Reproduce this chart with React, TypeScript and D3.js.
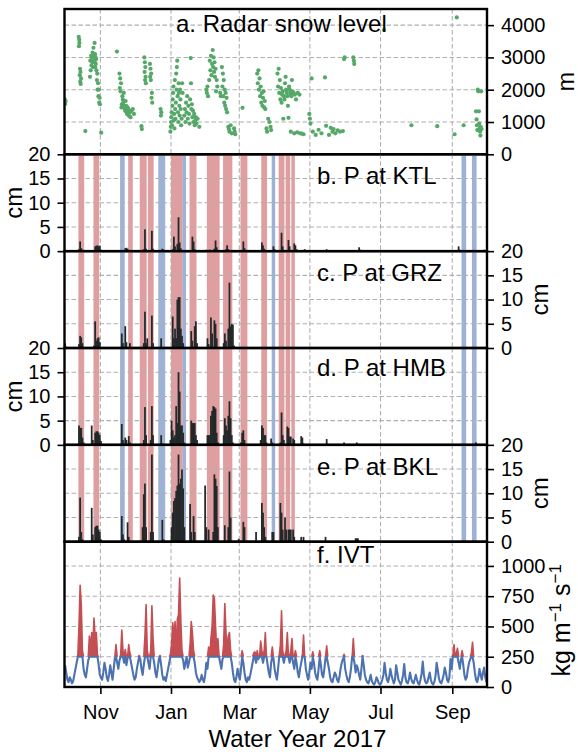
import React, { useEffect, useRef } from "react";
import * as d3 from "d3";

const FONT = "'Liberation Sans', Arial, Helvetica, sans-serif";
const RED = "#C44E52";
const BLUE = "#4C72B0";
const GREEN = "#55A868";

// Water year 2017
const waterYearStart = "2016-10-01";
const waterYearEnd = "2017-10-01";
const monthTicks = ["2016-11-01", "2017-01-01", "2017-03-01", "2017-05-01", "2017-07-01", "2017-09-01"];

// a. radar snow level: [day of water year, m]
const snowLevel: [number, number][] = [
  [0.2, 1700], [0.4, 1620], [0.6, 1560], [1.0, 1650],
  [12.3, 3640], [12.5, 3350], [12.7, 3550], [12.9, 3450], [13.2, 2450], [13.4, 2650], [13.6, 2250], [13.8, 2550], [14.0, 2180], [14.3, 2350], [18, 720],
  [22.0, 2400], [22.3, 2900], [22.6, 2600], [23.0, 3050], [23.3, 2750], [23.6, 3000], [24.0, 2850], [24.3, 3150], [24.6, 2700], [25.0, 3300],
  [25.3, 2900], [25.6, 3050], [26.0, 3450], [26.2, 2850], [26.4, 3100], [26.6, 2700], [26.8, 3000], [27.0, 2800], [27.3, 2950], [27.6, 2600],
  [28.0, 2300], [28.3, 2500], [28.6, 2000], [29.0, 2200], [29.3, 1800], [29.6, 2000], [30.0, 1600], [30.3, 1750], [30.6, 1550], [31.7, 670],
  [45.3, 3180],
  [47.5, 2500], [47.8, 2050], [48.1, 2350], [48.4, 1950], [48.8, 2200], [49.2, 1450], [49.6, 1550], [50.0, 1800], [50.4, 1700], [50.8, 1600],
  [51.2, 1900], [51.6, 1500], [52.0, 1400], [52.4, 1350], [52.8, 1650], [53.2, 1500], [53.6, 1300], [54.0, 1250], [54.5, 1450], [55.0, 1400],
  [55.5, 1200], [56.0, 1350], [56.5, 1300], [57.0, 1150], [58.0, 1350], [59.0, 1400], [60.0, 1250], [66.5, 870], [66.8, 780],
  [69.0, 3000], [69.2, 2550], [69.4, 2850], [69.6, 2300], [69.8, 2700], [70.0, 2400], [70.3, 2200],
  [73.8, 2800], [74.0, 2400], [74.3, 2650], [74.6, 2300], [74.9, 2500], [75.2, 1750], [75.5, 1900], [75.8, 1600],
  [83.0, 1400], [83.3, 1200], [83.6, 1300],
  [91.5, 700], [91.8, 850], [92.0, 1000], [92.3, 1150], [92.6, 1300], [92.9, 900], [93.2, 1500], [93.5, 1700], [93.8, 1900], [94.1, 2100],
  [94.4, 1050], [94.7, 1250], [95.0, 800], [95.3, 2300], [95.6, 1400], [95.9, 1100], [96.2, 1600], [96.5, 2500], [96.8, 2000], [97.1, 2700],
  [97.4, 2900], [97.7, 1800], [98.0, 1300], [98.3, 1000], [98.6, 2200], [98.9, 1900], [99.2, 1500], [99.5, 1200], [99.8, 2000], [100.1, 1700],
  [100.4, 1400], [100.8, 900], [101.2, 1100], [101.6, 2200], [102.0, 1900],
  [103.5, 1200], [104.0, 1400], [104.5, 1000], [105.0, 1600], [105.5, 1300], [106.0, 1800], [106.5, 1100], [107.0, 1500], [107.5, 1250],
  [108.0, 950], [108.5, 1700], [109.0, 2980], [109.3, 2200], [109.6, 1400], [110.0, 1550], [110.5, 1150], [111.0, 1350], [111.5, 1000],
  [112.0, 1250], [112.5, 900], [113.0, 1050], [113.5, 1150], [114.0, 950], [115.0, 1100], [116.5, 850],
  [122.5, 2000], [123.0, 1900], [123.5, 2100], [124.0, 1800], [125.0, 2300], [125.5, 2900], [126.0, 2600], [126.5, 3050], [127.0, 2450],
  [127.5, 2800], [128.0, 3230], [128.4, 2700], [128.8, 3000], [129.2, 2550], [129.6, 2850], [130.0, 2400], [130.5, 2650], [131.0, 1950],
  [131.5, 2300], [132.0, 2100], [134.5, 1900], [135.0, 1800], [136.0, 2700], [136.4, 2100], [136.8, 2500], [137.2, 1800], [137.6, 2300],
  [138.0, 1600], [138.4, 2000], [138.8, 1500], [139.2, 1900], [139.6, 1400], [140.0, 1750], [140.5, 1300],
  [141.5, 850], [142.0, 780], [142.5, 700], [143.5, 900], [144.5, 650], [146.5, 800], [147.0, 700], [147.5, 620], [153.8, 1440],
  [166.5, 2500], [167.0, 2200], [167.5, 2600], [168.0, 2000], [168.5, 2350], [169.0, 1800], [169.5, 2100], [170.0, 1600], [170.5, 1900],
  [171.0, 1500], [171.5, 1750], [172.0, 1950], [172.5, 1450], [173.0, 1650], [173.5, 1400], [174.5, 800], [175.0, 700], [176.0, 1100],
  [177.0, 1000], [178.0, 850], [178.5, 750],
  [184.0, 2500], [184.5, 2100], [185.0, 2650], [185.5, 1900], [186.0, 2300], [186.5, 1700], [187.0, 2050], [187.5, 1600], [188.0, 1850],
  [188.5, 1950], [189.0, 1100], [189.5, 1800], [190.0, 1700], [190.5, 2200], [191.0, 2400], [191.5, 2000], [192.0, 1900], [192.5, 1800],
  [193.0, 1500], [193.5, 1130], [194.0, 2100], [194.5, 2000], [195.0, 1900], [195.5, 1850], [196.0, 1800], [196.5, 2300], [197.0, 1950],
  [198.0, 1900], [199.0, 1850], [200.0, 1700], [201.5, 1900], [203.0, 1850],
  [195.5, 700], [198.5, 650], [201.0, 680], [203.5, 650], [205.0, 640], [206.5, 620],
  [211.5, 1250], [212.0, 1100], [212.5, 950], [213.5, 2350], [214.5, 700], [217.0, 600], [219.5, 760], [222.0, 650], [225.0, 2380],
  [226.0, 880], [228.5, 600], [230.0, 820], [231.5, 700], [232.5, 780], [234.0, 650], [236.0, 740], [238.0, 700], [240.5, 720],
  [241.5, 2950], [242.0, 3000], [249.5, 3000], [250.0, 2900], [250.3, 2800],
  [276.0, 3850], [299.7, 900], [322.0, 870], [337.0, 620], [338.9, 4240], [344.8, 900],
  [355.5, 1330], [356.0, 1080], [356.3, 900], [356.6, 750], [357.0, 2000], [357.5, 1950], [358.0, 1330], [358.3, 950], [358.6, 800],
  [359.0, 700], [359.3, 580], [359.6, 850], [360.0, 1950], [360.3, 780],
];

// daily precipitation (cm); days not listed are zero
const precipKTL: [string, number][] = [
  ["2016-10-13", 0.4], ["2016-10-14", 2.0], ["2016-10-15", 0.6], ["2016-10-16", 0.3],
  ["2016-10-27", 1.0], ["2016-10-28", 1.1], ["2016-10-29", 1.2], ["2016-10-30", 1.0], ["2016-10-31", 1.1], ["2016-11-01", 0.3],
  ["2016-11-22", 0.6], ["2016-11-23", 0.7], ["2016-11-24", 0.5],
  ["2016-12-08", 0.4], ["2016-12-09", 4.5], ["2016-12-10", 0.5], ["2016-12-15", 4.2], ["2016-12-16", 0.5],
  ["2016-12-24", 0.5], ["2016-12-25", 0.3],
  ["2017-01-02", 0.4], ["2017-01-03", 3.0], ["2017-01-04", 1.0], ["2017-01-06", 1.5], ["2017-01-07", 7.0], ["2017-01-08", 1.8], ["2017-01-09", 0.6],
  ["2017-01-19", 3.0], ["2017-01-20", 2.0], ["2017-01-21", 0.4], ["2017-01-31", 0.3],
  ["2017-02-03", 0.3], ["2017-02-07", 0.5], ["2017-02-08", 2.2], ["2017-02-09", 0.8], ["2017-02-17", 0.4], ["2017-02-18", 1.2], ["2017-02-19", 0.4],
  ["2017-03-04", 2.0], ["2017-03-05", 0.6],
  ["2017-03-20", 1.8], ["2017-03-21", 1.2], ["2017-03-22", 0.5], ["2017-03-30", 1.0], ["2017-03-31", 0.4],
  ["2017-04-06", 3.8], ["2017-04-07", 1.0], ["2017-04-12", 2.3], ["2017-04-13", 1.0], ["2017-04-17", 1.6], ["2017-04-18", 1.2], ["2017-04-19", 0.4],
  ["2017-04-26", 0.4], ["2017-05-15", 0.4], ["2017-06-12", 0.8], ["2017-06-13", 0.3], ["2017-09-06", 1.0], ["2017-09-07", 0.3], ["2017-09-28", 0.3],
];

const precipGRZ: [string, number][] = [
  ["2016-10-01", 1.0], ["2016-10-02", 0.3],
  ["2016-10-13", 0.8], ["2016-10-14", 2.5], ["2016-10-15", 2.2], ["2016-10-16", 1.0],
  ["2016-10-26", 0.5], ["2016-10-27", 5.5], ["2016-10-28", 1.5], ["2016-10-29", 2.0], ["2016-10-30", 2.2], ["2016-10-31", 1.2],
  ["2016-11-19", 3.0], ["2016-11-20", 1.0], ["2016-11-22", 4.5], ["2016-11-23", 1.2], ["2016-11-26", 1.0],
  ["2016-12-08", 1.0], ["2016-12-09", 7.5], ["2016-12-10", 1.0], ["2016-12-11", 2.0], ["2016-12-15", 6.7], ["2016-12-16", 1.0],
  ["2016-12-23", 2.0],
  ["2017-01-02", 6.5], ["2017-01-03", 2.0], ["2017-01-04", 4.0], ["2017-01-05", 2.0], ["2017-01-06", 10.0], ["2017-01-07", 10.5],
  ["2017-01-08", 10.5], ["2017-01-09", 4.0], ["2017-01-10", 2.5], ["2017-01-11", 1.0],
  ["2017-01-18", 3.5], ["2017-01-19", 1.5], ["2017-01-21", 4.5], ["2017-01-22", 5.5], ["2017-01-23", 1.0],
  ["2017-02-01", 2.0], ["2017-02-02", 0.8], ["2017-02-04", 6.3], ["2017-02-05", 3.0], ["2017-02-07", 5.7], ["2017-02-08", 5.0], ["2017-02-09", 2.0],
  ["2017-02-15", 1.0], ["2017-02-16", 3.0], ["2017-02-17", 1.5], ["2017-02-19", 4.0], ["2017-02-20", 13.5], ["2017-02-21", 4.5],
  ["2017-02-22", 5.0], ["2017-02-23", 4.8], ["2017-02-24", 0.5],
];

const precipHMB: [string, number][] = [
  ["2016-10-13", 4.0], ["2016-10-14", 3.5], ["2016-10-15", 3.5], ["2016-10-16", 1.5], ["2016-10-17", 0.5],
  ["2016-10-24", 4.0], ["2016-10-25", 1.0], ["2016-10-27", 2.5], ["2016-10-28", 2.8], ["2016-10-29", 2.8], ["2016-10-30", 2.5], ["2016-10-31", 2.0], ["2016-11-01", 0.8],
  ["2016-11-19", 4.3], ["2016-11-20", 1.0], ["2016-11-22", 1.5], ["2016-11-23", 1.0], ["2016-11-25", 1.8], ["2016-11-26", 0.5],
  ["2016-12-08", 1.0], ["2016-12-09", 7.8], ["2016-12-10", 2.0], ["2016-12-14", 1.0], ["2016-12-15", 8.0], ["2016-12-16", 2.0],
  ["2016-12-23", 2.0], ["2016-12-24", 0.3],
  ["2016-12-31", 1.0], ["2017-01-01", 5.0], ["2017-01-02", 3.0], ["2017-01-03", 1.5], ["2017-01-04", 2.0], ["2017-01-05", 8.0], ["2017-01-06", 4.5],
  ["2017-01-07", 15.0], ["2017-01-08", 11.0], ["2017-01-09", 4.0], ["2017-01-10", 4.0], ["2017-01-11", 2.5], ["2017-01-12", 0.5],
  ["2017-01-18", 5.0], ["2017-01-19", 4.5], ["2017-01-20", 4.5], ["2017-01-21", 4.5], ["2017-01-22", 2.0], ["2017-01-23", 1.0],
  ["2017-02-01", 2.0], ["2017-02-02", 2.0], ["2017-02-03", 2.0], ["2017-02-04", 6.0], ["2017-02-05", 7.0], ["2017-02-06", 8.0], ["2017-02-07", 7.8],
  ["2017-02-08", 7.5], ["2017-02-09", 2.5], ["2017-02-10", 0.5],
  ["2017-02-15", 2.0], ["2017-02-16", 5.5], ["2017-02-17", 4.0], ["2017-02-18", 3.0], ["2017-02-19", 6.0], ["2017-02-20", 9.0], ["2017-02-21", 5.5],
  ["2017-02-22", 2.0], ["2017-02-23", 0.5],
  ["2017-03-02", 0.5], ["2017-03-03", 2.5], ["2017-03-04", 3.0], ["2017-03-05", 1.0],
  ["2017-03-19", 1.0], ["2017-03-20", 4.0], ["2017-03-21", 3.5], ["2017-03-22", 2.0], ["2017-03-23", 2.0], ["2017-03-24", 0.5], ["2017-03-28", 1.3], ["2017-03-29", 0.5],
  ["2017-04-05", 0.5], ["2017-04-06", 6.7], ["2017-04-07", 2.0], ["2017-04-08", 1.0], ["2017-04-11", 3.8], ["2017-04-12", 3.5], ["2017-04-13", 1.7],
  ["2017-04-14", 1.7], ["2017-04-16", 1.3], ["2017-04-17", 1.0],
  ["2017-04-23", 1.8], ["2017-04-24", 1.5], ["2017-04-25", 0.3],
  ["2017-05-15", 1.2], ["2017-05-30", 0.5], ["2017-06-10", 0.5], ["2017-09-21", 0.5],
];

const precipBKL: [string, number][] = [
  ["2016-10-13", 1.0], ["2016-10-14", 9.1], ["2016-10-15", 2.0], ["2016-10-16", 0.5],
  ["2016-10-24", 7.0], ["2016-10-25", 1.5], ["2016-10-27", 3.0], ["2016-10-28", 3.3], ["2016-10-29", 3.3], ["2016-10-30", 2.5], ["2016-10-31", 2.0], ["2016-11-01", 0.5],
  ["2016-11-19", 5.3], ["2016-11-20", 1.5], ["2016-11-21", 0.5], ["2016-11-24", 4.0], ["2016-11-25", 1.0],
  ["2016-12-07", 3.0], ["2016-12-08", 9.8], ["2016-12-09", 12.0], ["2016-12-10", 3.0], ["2016-12-14", 2.0], ["2016-12-15", 18.0], ["2016-12-16", 2.0],
  ["2016-12-24", 4.5], ["2016-12-25", 0.5],
  ["2017-01-01", 3.0], ["2017-01-02", 6.0], ["2017-01-03", 8.4], ["2017-01-04", 9.0], ["2017-01-05", 10.5], ["2017-01-06", 11.6], ["2017-01-07", 18.0],
  ["2017-01-08", 12.0], ["2017-01-09", 13.0], ["2017-01-10", 14.9], ["2017-01-11", 11.0], ["2017-01-12", 3.0],
  ["2017-01-17", 7.8], ["2017-01-18", 2.0], ["2017-01-20", 5.3], ["2017-01-21", 2.0],
  ["2017-01-30", 11.6], ["2017-01-31", 3.0], ["2017-02-02", 2.5],
  ["2017-02-06", 2.0], ["2017-02-07", 13.9], ["2017-02-08", 13.0], ["2017-02-09", 11.5], ["2017-02-10", 3.0],
  ["2017-02-16", 3.4], ["2017-02-19", 3.0], ["2017-02-20", 14.5], ["2017-02-21", 5.0], ["2017-02-28", 0.6],
  ["2017-03-04", 4.1], ["2017-03-05", 3.0], ["2017-03-15", 2.0],
  ["2017-03-20", 8.0], ["2017-03-21", 6.0], ["2017-03-22", 3.0], ["2017-03-23", 1.0], ["2017-03-29", 2.0], ["2017-03-30", 2.0],
  ["2017-04-05", 8.0], ["2017-04-06", 6.0], ["2017-04-07", 2.5], ["2017-04-09", 5.0], ["2017-04-10", 2.5], ["2017-04-12", 2.5],
  ["2017-04-13", 2.5], ["2017-04-14", 2.5], ["2017-04-16", 2.5], ["2017-04-17", 1.0],
  ["2017-04-23", 1.0], ["2017-04-25", 1.0], ["2017-05-14", 1.0], ["2017-06-09", 0.7], ["2017-06-10", 0.7], ["2017-06-11", 0.7],
];

// shaded periods in panels b-e: [start, end, kind]
const bands: [string, string, string][] = [
  ["2016-10-13", "2016-10-18", "red"], ["2016-10-26", "2016-10-31", "red"], ["2016-11-18", "2016-11-22", "blue"],
  ["2016-11-25", "2016-11-29", "red"], ["2016-12-05", "2016-12-11", "red"], ["2016-12-12", "2016-12-17", "red"],
  ["2016-12-21", "2016-12-27", "blue"], ["2017-01-01", "2017-01-11", "red"], ["2017-01-11", "2017-01-14", "blue"],
  ["2017-01-17", "2017-01-23", "red"], ["2017-02-01", "2017-02-12", "red"], ["2017-02-15", "2017-02-23", "red"],
  ["2017-03-02", "2017-03-08", "red"], ["2017-03-20", "2017-03-25", "red"], ["2017-03-29", "2017-04-01", "blue"],
  ["2017-04-04", "2017-04-09", "red"], ["2017-04-10", "2017-04-14", "red"], ["2017-04-15", "2017-04-18", "red"],
  ["2017-09-09", "2017-09-13", "blue"], ["2017-09-18", "2017-09-22", "blue"],
];

// f. daily IVT (kg m-1 s-1), one array per month
const ivtOct = [180, 120, 60, 40, 80, 60, 30, 50, 100, 150, 200, 260, 500, 840, 680, 300, 150, 100, 80, 150, 220, 420, 300, 450, 350, 570, 400, 450, 260, 180, 100];
const ivtNov = [80, 60, 120, 200, 150, 80, 50, 100, 180, 120, 60, 150, 240, 350, 200, 150, 220, 260, 470, 300, 200, 310, 180, 240, 350, 280, 200, 150, 100, 60];
const ivtDec = [80, 150, 200, 260, 230, 150, 100, 180, 420, 680, 300, 200, 150, 300, 670, 400, 200, 120, 80, 150, 230, 260, 180, 100, 60, 80, 50, 100, 150, 200, 270];
const ivtJan = [350, 530, 400, 540, 300, 560, 600, 900, 550, 300, 220, 150, 200, 250, 160, 200, 350, 540, 450, 300, 200, 120, 80, 60, 40, 60, 100, 60, 40, 100, 200];
const ivtFeb = [150, 330, 260, 400, 500, 760, 730, 500, 300, 400, 260, 200, 150, 230, 350, 690, 450, 300, 420, 450, 300, 200, 120, 60, 40, 80, 150, 100];
const ivtMar = [60, 150, 300, 200, 120, 60, 40, 80, 60, 100, 150, 200, 280, 290, 200, 300, 230, 250, 380, 300, 200, 300, 450, 250, 180, 120, 80, 200, 330, 240, 150];
const ivtApr = [100, 60, 150, 260, 350, 630, 300, 200, 260, 300, 450, 250, 200, 300, 400, 200, 150, 300, 200, 120, 80, 150, 200, 260, 430, 250, 150, 100, 60, 120];
const ivtMay = [200, 150, 290, 200, 120, 80, 60, 150, 300, 180, 100, 80, 150, 240, 340, 200, 150, 80, 50, 40, 80, 120, 100, 60, 40, 80, 150, 200, 230, 270, 150];
const ivtJun = [100, 60, 40, 80, 150, 250, 400, 200, 120, 180, 150, 100, 60, 150, 260, 180, 100, 60, 40, 30, 60, 100, 50, 30, 20, 40, 80, 60, 30, 20];
const ivtJul = [30, 60, 100, 200, 120, 60, 40, 80, 150, 100, 60, 30, 60, 180, 120, 60, 40, 20, 50, 100, 190, 80, 40, 30, 60, 120, 70, 40, 30, 60, 100];
const ivtAug = [60, 30, 20, 60, 110, 210, 100, 50, 30, 40, 80, 120, 60, 30, 20, 40, 90, 200, 140, 70, 40, 30, 60, 100, 160, 120, 60, 40, 80, 230, 150];
const ivtSep = [260, 350, 250, 280, 320, 200, 150, 230, 300, 180, 100, 60, 80, 150, 200, 230, 280, 370, 200, 120, 60, 40, 80, 150, 100, 60, 120, 160, 80, 40];
const ivtThreshold = 250;

export default function App() {
  const ref = useRef<HTMLDivElement>(null);

  useEffect(() => {
    if (!ref.current) return;
    const container = d3.select(ref.current);
    container.selectAll("*").remove();

    const width = 578, height = 752;
    const margin = { top: 9, right: 91, bottom: 65, left: 64.5 };
    const left = margin.left, right = width - margin.right;

    const svg = container.append("svg")
      .attr("width", width).attr("height", height)
      .style("position", "absolute").style("left", "0px").style("top", "0px")
      .style("background", "#fff")
      .attr("font-family", FONT);

    const parse = d3.timeParse("%Y-%m-%d");
    const t0 = parse(waterYearStart)!;
    const x = d3.scaleTime().domain([t0, parse(waterYearEnd)!]).range([left, right]);
    const atDay = (d: number) => x(new Date(t0.getTime() + d * 864e5));
    const xs = (s: string) => x(parse(s)!);
    const xNext = (s: string) => x(d3.timeDay.offset(parse(s)!, 1));
    const gridX = monthTicks.map(s => xs(s));

    const ivt = [...ivtOct, ...ivtNov, ...ivtDec, ...ivtJan, ...ivtFeb, ...ivtMar, ...ivtApr, ...ivtMay, ...ivtJun, ...ivtJul, ...ivtAug, ...ivtSep];

    const panels: any[] = [
      { id: "a", h: 1.5, title: "a. Radar snow level", tx: 176, ty: 23, side: "right", domain: [0, 4500], ticks: [0, 1000, 2000, 3000, 4000], label: "m" },
      { id: "b", h: 1, title: "b. P at KTL", tx: 317, ty: 30, side: "left", domain: [0, 20], ticks: [0, 5, 10, 15, 20], label: "cm", precip: precipKTL },
      { id: "c", h: 1, title: "c. P at GRZ", tx: 317, ty: 30, side: "right", domain: [0, 20], ticks: [0, 5, 10, 15, 20], label: "cm", precip: precipGRZ },
      { id: "d", h: 1, title: "d. P at HMB", tx: 317, ty: 28, side: "left", domain: [0, 20], ticks: [0, 5, 10, 15, 20], label: "cm", precip: precipHMB },
      { id: "e", h: 1, title: "e. P at BKL", tx: 317, ty: 30, side: "right", domain: [0, 20], ticks: [0, 5, 10, 15, 20], label: "cm", precip: precipBKL },
      { id: "f", h: 1.5, title: "f. IVT", tx: 317, ty: 21.5, side: "right", domain: [0, 1200], ticks: [0, 250, 500, 750, 1000], label: "ivt" },
    ];
    const unit = (height - margin.top - margin.bottom) / d3.sum(panels, p => p.h);
    let cursor = margin.top;
    panels.forEach(p => { p.y0 = cursor; cursor += p.h * unit; p.y1 = cursor; });

    const defs = svg.append("defs");

    panels.forEach(p => {
      const y = d3.scaleLinear().domain(p.domain).range([p.y1, p.y0]);
      const g = svg.append("g");

      defs.append("clipPath").attr("id", `clip-${p.id}`)
        .append("rect").attr("x", left).attr("y", p.y0).attr("width", right - left).attr("height", p.y1 - p.y0);
      const body = g.append("g").attr("clip-path", `url(#clip-${p.id})`);

      // shaded periods
      if (p.precip) {
        body.selectAll("rect.band").data(bands).join("rect").attr("class", "band")
          .attr("x", d => xs(d[0])).attr("width", d => xs(d[1]) - xs(d[0]))
          .attr("y", p.y0).attr("height", p.y1 - p.y0)
          .attr("fill", d => d[2] === "red" ? RED : BLUE).attr("opacity", 0.55);
      }

      // grid
      body.selectAll("line.gx").data(gridX).join("line").attr("class", "gx")
        .attr("x1", d => d).attr("x2", d => d).attr("y1", p.y0).attr("y2", p.y1)
        .attr("stroke", "#b0b0b0").attr("stroke-width", 1.1).attr("stroke-dasharray", "4.5,2.5");
      body.selectAll("line.gy").data(p.ticks.filter((t: number) => t > p.domain[0] && t < p.domain[1])).join("line").attr("class", "gy")
        .attr("x1", left).attr("x2", right).attr("y1", (d: number) => y(d)).attr("y2", (d: number) => y(d))
        .attr("stroke", "#b0b0b0").attr("stroke-width", 1.1).attr("stroke-dasharray", "4.5,2.5");

      if (p.id === "a") {
        body.selectAll("circle").data(snowLevel).join("circle")
          .attr("cx", d => atDay(d[0])).attr("cy", d => y(d[1])).attr("r", 2.1)
          .attr("fill", GREEN);
      }

      if (p.precip) {
        body.selectAll("rect.bar").data(p.precip as [string, number][]).join("rect").attr("class", "bar")
          .attr("x", d => xs(d[0]) - 0.3).attr("width", d => xNext(d[0]) - xs(d[0]) + 0.6)
          .attr("y", d => y(d[1])).attr("height", d => y(0) - y(d[1]))
          .attr("fill", "#232829");
      }

      if (p.id === "f") {
        const above = (i: number) => ivt[i] > ivtThreshold || (i > 0 && ivt[i - 1] > ivtThreshold) || (i < ivt.length - 1 && ivt[i + 1] > ivtThreshold);
        const area = d3.area<number>()
          .x((_, i) => atDay(i + 0.5))
          .y0(y(ivtThreshold))
          .y1(v => y(Math.max(v, ivtThreshold)));
        body.append("path").datum(ivt).attr("d", area).attr("fill", RED);
        const redLine = d3.line<number>()
          .defined((_, i) => above(i))
          .x((_, i) => atDay(i + 0.5))
          .y(v => y(Math.max(v, ivtThreshold)));
        body.append("path").datum(ivt).attr("d", redLine).attr("fill", "none").attr("stroke", RED)
          .attr("stroke-width", 1.6).attr("stroke-linejoin", "round");
        const line = d3.line<number>()
          .x((_, i) => atDay(i + 0.5))
          .y(v => y(Math.min(v, ivtThreshold)));
        body.append("path").datum(ivt).attr("d", line).attr("fill", "none").attr("stroke", BLUE)
          .attr("stroke-width", 2.1).attr("stroke-linejoin", "round");
      }

      // frame
      g.append("rect").attr("x", left).attr("y", p.y0).attr("width", right - left).attr("height", p.y1 - p.y0)
        .attr("fill", "none").attr("stroke", "#000").attr("stroke-width", 2.4);

      // y axis
      const axis = (p.side === "right" ? d3.axisRight(y) : d3.axisLeft(y))
        .tickValues(p.ticks).tickSize(7).tickPadding(7).tickFormat(d3.format("d"));
      const ax = g.append("g").attr("transform", `translate(${p.side === "right" ? right : left},0)`).call(axis as any);
      ax.select(".domain").remove();
      ax.attr("font-family", FONT).attr("font-size", 20);
      ax.selectAll("line").attr("stroke", "#000").attr("stroke-width", 1.6);
      ax.selectAll("text").attr("fill", "#000");

      // panel title
      g.append("text").attr("x", p.tx).attr("y", p.y0 + p.ty).attr("font-size", 24).attr("fill", "#000").text(p.title);

      // axis label
      const mid = (p.y0 + p.y1) / 2;
      if (p.label === "ivt") {
        const t = g.append("text").attr("transform", `translate(570,${mid + 6}) rotate(-90)`)
          .attr("text-anchor", "middle").attr("font-size", 25).attr("fill", "#000");
        t.append("tspan").text("kg m");
        t.append("tspan").attr("dy", -9).attr("font-size", 17).text("\u22121");
        t.append("tspan").attr("dy", 9).text(" s");
        t.append("tspan").attr("dy", -9).attr("font-size", 17).text("\u22121");
      } else {
        const lx = p.side === "left" ? 22 : (p.label === "m" ? 574 : 548);
        g.append("text").attr("transform", `translate(${lx},${mid}) rotate(-90)`)
          .attr("text-anchor", "middle").attr("font-size", p.label === "m" ? 23 : 24).attr("fill", "#000").text(p.label);
      }

      // x axis at the bottom of the last panel
      if (p.id === "f") {
        const xa = g.append("g").attr("transform", `translate(0,${p.y1})`)
          .call(d3.axisBottom(x).tickValues(monthTicks.map(s => parse(s)!)).tickFormat(d3.timeFormat("%b") as any).tickSize(7).tickPadding(11));
        xa.select(".domain").remove();
        xa.attr("font-family", FONT).attr("font-size", 20);
        xa.selectAll("line").attr("stroke", "#000").attr("stroke-width", 1.6);
        xa.selectAll("text").attr("fill", "#000");
        svg.append("text").attr("x", 297.5).attr("y", 747).attr("text-anchor", "middle")
          .attr("font-size", 24).attr("fill", "#000").text("Water Year 2017");
      }
    });
  }, []);

  return <div ref={ref} style={{ width: 578, height: 752 }}></div>;
}
